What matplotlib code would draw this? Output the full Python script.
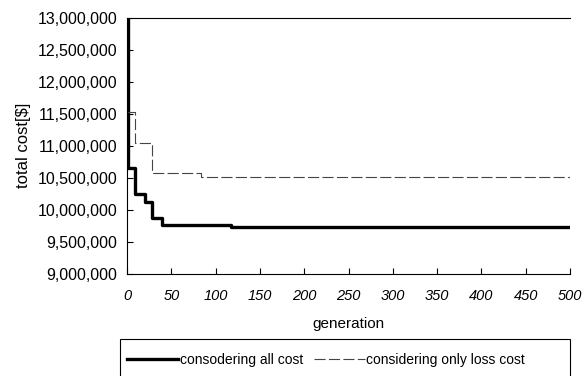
import matplotlib.pyplot as plt
from matplotlib.patches import Rectangle
from matplotlib.ticker import FuncFormatter

plt.rcParams['font.family'] = ['Liberation Sans', 'DejaVu Sans']

# step data (generation where a new level starts, cost at that level)
all_gen = [0, 1, 9, 20, 28, 39, 117, 500]
all_cost = [13000000, 10650000, 10250000, 10120000, 9880000, 9770000, 9740000, 9740000]

loss_gen = [0, 9, 28, 83, 500]
loss_cost = [11520000, 11040000, 10580000, 10520000, 10520000]

xticks = list(range(0, 501, 50))
yticks = list(range(9000000, 13000001, 500000))

W, H = 584, 376
fig = plt.figure(figsize=(W / 100, H / 100), dpi=100)
ax = fig.add_axes([127 / W, 1 - 274 / H, (570 - 127) / W, (274 - 17.5) / H])

ax.plot(all_gen, all_cost, drawstyle='steps-post', color='black', lw=2.4,
        label='consodering all cost')
ax.plot(loss_gen, loss_cost, drawstyle='steps-post', color='#444444', lw=0.8,
        dashes=(10, 3), label='considering only loss cost')

ax.set_xlim(0, 500)
ax.set_ylim(9000000, 13000000)
ax.set_xticks(xticks)
ax.set_yticks(yticks)
ax.yaxis.set_major_formatter(FuncFormatter(lambda v, p: '{:,.0f}'.format(v)))
ax.tick_params(direction='in', length=4, width=0.8)
ax.tick_params(axis='y', labelsize=11.5, pad=7)
ax.tick_params(axis='x', labelsize=10.5, pad=11)
for t in ax.get_xticklabels():
    t.set_fontstyle('italic')
ax.spines['right'].set_visible(False)
for s in ['top', 'left', 'bottom']:
    ax.spines[s].set_linewidth(0.8)

ax.set_xlabel('generation', fontsize=11, labelpad=10)
ax.set_ylabel('total cost[$]', fontsize=12, labelpad=5)

# legend box (bottom edge runs off the picture like in the scan)
fig.patches.append(Rectangle((120 / W, -0.05), (570 - 120) / W, 0.05 + 1 - 339 / H,
                             transform=fig.transFigure, fill=False,
                             edgecolor='black', lw=0.8))
fig.legend(loc='center left', bbox_to_anchor=(127 / W, 1 - 360 / H), ncol=2,
           fontsize=10, frameon=False, handlelength=3.7, handletextpad=0.08,
           columnspacing=0.8, borderpad=0, borderaxespad=0)

fig.savefig('out.png', dpi=100)
